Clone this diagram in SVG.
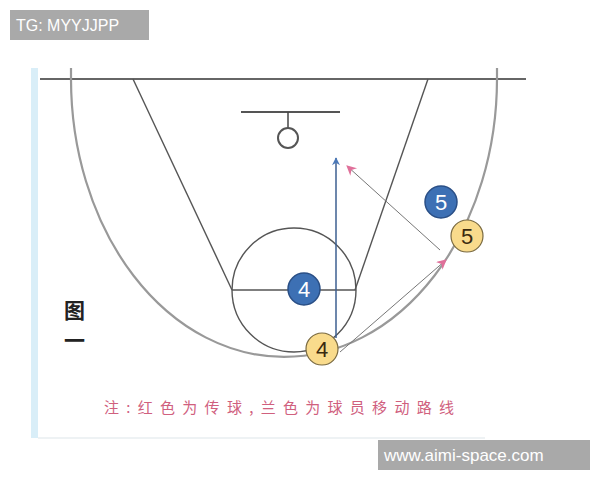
<svg xmlns="http://www.w3.org/2000/svg" width="600" height="480" viewBox="0 0 600 480">
<defs>
<style>
.court{fill:none;stroke:#555;stroke-width:1.4}
.arc{fill:none;stroke:#999;stroke-width:2.2}
.pass{stroke:#777;stroke-width:1;fill:none}
.blue circle{fill:#3d70b4;stroke:#2a4f86;stroke-width:1.5}
.blue text{fill:#fff;font-family:"Liberation Sans",sans-serif;font-size:22px;text-anchor:middle}
.yel circle{fill:#f9db8c;stroke:#7a6a40;stroke-width:1.2}
.yel text{fill:#3a2a10;font-family:"Liberation Sans",sans-serif;font-size:22px;text-anchor:middle}
.wm{fill:#a9a9a9}
.wmt{fill:#fff;font-family:"Liberation Sans",sans-serif}
</style>
<marker id="pk" viewBox="0 0 10 10" refX="9" refY="5" markerWidth="14" markerHeight="10" orient="auto" markerUnits="userSpaceOnUse">
<path d="M0,0 L10,5 L0,10 L3,5 z" fill="#e0709a"/>
</marker>
<marker id="bl" viewBox="0 0 10 10" refX="9" refY="5" markerWidth="13" markerHeight="8" orient="auto" markerUnits="userSpaceOnUse">
<path d="M0,0 L10,5 L0,10 L3,5 z" fill="#4a78b8"/>
</marker>
</defs>
<rect width="600" height="480" fill="#fff"/>
<rect x="31" y="68" width="7" height="370" fill="#d9eef8"/>
<line x1="38" y1="438" x2="485" y2="438" stroke="#eef2f4" stroke-width="2"/>
<g id="court">
<line x1="40" y1="79" x2="526" y2="79" stroke="#333" stroke-width="1.3"/>
<path class="arc" d="M71,68 L71,79 A213,278 0 0 0 497,79 L497,68"/>
<line class="court" x1="133" y1="79" x2="232" y2="290"/>
<line class="court" x1="428" y1="79" x2="355" y2="290"/>
<circle class="court" cx="294" cy="290" r="62"/>
<line class="court" x1="232" y1="290" x2="356" y2="290"/>
<line x1="241" y1="112" x2="340" y2="112" stroke="#555" stroke-width="2"/>
<line x1="288" y1="112" x2="288" y2="128" stroke="#444" stroke-width="1.5"/>
<circle cx="288" cy="138" r="10" fill="none" stroke="#555" stroke-width="2"/>
</g>
<g id="connectors">
<line x1="336" y1="338" x2="336" y2="158" stroke="#3d5f90" stroke-width="1.5" marker-end="url(#bl)"/>
<line class="pass" x1="340" y1="352" x2="446" y2="260" marker-end="url(#pk)"/>
<line class="pass" x1="440" y1="250" x2="347" y2="166" marker-end="url(#pk)"/>
</g>
<g id="blue4" class="blue"><circle cx="304" cy="289" r="16"/><text x="304" y="297">4</text></g>
<g id="blue5" class="blue"><circle cx="441" cy="202" r="16"/><text x="441" y="210">5</text></g>
<g id="yel4" class="yel"><circle cx="322" cy="349" r="16"/><text x="322" y="357">4</text></g>
<g id="yel5" class="yel"><circle cx="467" cy="236" r="16"/><text x="467" y="244">5</text></g>
<g id="caption" font-family="'Noto Sans CJK SC',sans-serif" font-size="21" font-weight="bold" fill="#222">
<text x="64" y="318">图</text>
<text x="64" y="348">一</text>
</g>
<text x="104" y="413" font-family="'Noto Sans CJK SC',sans-serif" font-size="15" fill="#d0607e" textLength="350">注:红色为传球,兰色为球员移动路线</text>
<rect class="wm" x="10" y="10" width="139" height="30"/>
<text class="wmt" x="16" y="31" font-size="16">TG: MYYJJPP</text>
<rect class="wm" x="378" y="440" width="212" height="30"/>
<text class="wmt" x="384" y="461" font-size="17">www.aimi-space.com</text>
</svg>
